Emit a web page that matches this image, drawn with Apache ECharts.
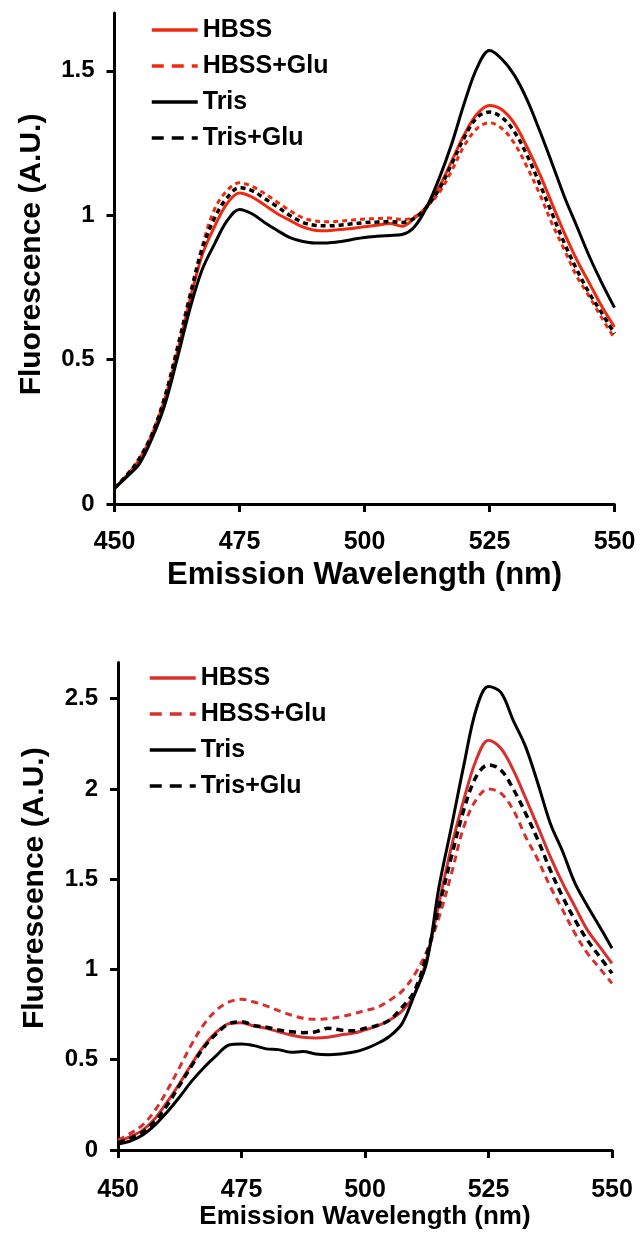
<!DOCTYPE html>
<html>
<head>
<meta charset="utf-8">
<script src="https://cdn.jsdelivr.net/npm/echarts@6/dist/echarts.min.js"></script>
<style>
html,body{margin:0;padding:0;background:#fff;}
#chart{width:640px;height:1233px;}
</style>
</head>
<body>
<div id="chart"></div>
<script>
// Emission wavelengths (nm), 450 to 550 every 2.5 nm
const wavelengths = [450,452.5,455,457.5,460,462.5,465,467.5,470,472.5,475,477.5,480,482.5,485,487.5,490,492.5,495,497.5,500,502.5,505,507.5,510,512.5,515,517.5,520,522.5,525,527.5,530,532.5,535,537.5,540,542.5,545,547.5,550];

// Top panel
const hbssTop    = [0.055,0.10,0.155,0.24,0.36,0.52,0.70,0.86,0.96,1.04,1.077,1.063,1.035,1.006,0.983,0.96,0.948,0.946,0.95,0.954,0.96,0.965,0.971,0.962,0.99,1.03,1.10,1.19,1.28,1.35,1.38,1.365,1.317,1.236,1.144,1.04,0.937,0.844,0.764,0.683,0.613];
const hbssGluTop = [0.055,0.10,0.16,0.245,0.37,0.54,0.72,0.89,1.02,1.085,1.112,1.10,1.075,1.046,1.017,0.992,0.98,0.977,0.979,0.983,0.987,0.988,0.99,0.985,0.994,1.03,1.08,1.156,1.242,1.30,1.32,1.30,1.248,1.167,1.075,0.971,0.879,0.787,0.717,0.643,0.573];
const trisTop    = [0.055,0.095,0.14,0.227,0.34,0.50,0.67,0.81,0.90,0.98,1.02,1.005,0.975,0.948,0.923,0.91,0.904,0.904,0.908,0.916,0.923,0.927,0.93,0.933,0.96,1.03,1.13,1.25,1.39,1.51,1.57,1.54,1.484,1.40,1.294,1.18,1.063,0.96,0.856,0.764,0.68];
const trisGluTop = [0.055,0.10,0.158,0.24,0.365,0.53,0.71,0.88,0.99,1.06,1.095,1.085,1.058,1.03,1.0,0.976,0.965,0.963,0.965,0.97,0.974,0.976,0.978,0.975,0.99,1.03,1.092,1.18,1.27,1.338,1.357,1.338,1.288,1.208,1.11,1.006,0.902,0.81,0.729,0.66,0.59];

// Bottom panel
const hbssBot    = [0.046,0.074,0.11,0.175,0.268,0.37,0.48,0.58,0.655,0.70,0.705,0.687,0.674,0.655,0.637,0.624,0.62,0.624,0.637,0.646,0.665,0.687,0.72,0.77,0.86,1.06,1.37,1.68,1.94,2.16,2.27,2.225,2.105,1.95,1.79,1.625,1.478,1.348,1.219,1.126,1.034];
const hbssGluBot = [0.055,0.092,0.139,0.22,0.332,0.46,0.59,0.70,0.776,0.82,0.835,0.82,0.798,0.772,0.748,0.73,0.724,0.727,0.738,0.753,0.772,0.79,0.83,0.88,0.97,1.10,1.29,1.53,1.79,1.94,2.00,1.976,1.884,1.736,1.607,1.459,1.33,1.2,1.09,1.007,0.923];
const trisBot    = [0.033,0.05,0.083,0.139,0.212,0.295,0.384,0.46,0.526,0.582,0.587,0.578,0.56,0.556,0.541,0.545,0.532,0.528,0.532,0.541,0.56,0.59,0.63,0.70,0.86,1.04,1.46,1.79,2.13,2.44,2.567,2.534,2.38,2.234,2.03,1.81,1.653,1.478,1.353,1.237,1.117];
const trisGluBot = [0.04,0.065,0.10,0.16,0.25,0.36,0.47,0.572,0.646,0.70,0.71,0.69,0.68,0.665,0.655,0.65,0.655,0.674,0.665,0.66,0.674,0.69,0.72,0.79,0.88,1.08,1.348,1.625,1.884,2.068,2.133,2.105,2.0,1.865,1.717,1.551,1.403,1.274,1.163,1.071,0.979];

const seriesNames = ['HBSS','HBSS+Glu','Tris','Tris+Glu'];
const xTicks = [450,475,500,525,550];
const yTicksTop = [0,0.5,1,1.5];
const yTicksBot = [0,0.5,1,1.5,2,2.5];
const xTitle = 'Emission Wavelength (nm)';
const yTitle = 'Fluorescence (A.U.)';

const FONT = 'Liberation Sans, Arial, sans-serif';
const RED_TOP = '#ee2a10';
const RED_BOT = '#d8302e';
const BLACK = '#000000';

function pairs(vals){ return wavelengths.map((w,i)=>[w, vals[i]]); }

function xAxisCfg(gridIndex, nameSize, nameGap, labelMargin){
  return {
    type:'value', gridIndex, min:450, max:550, interval:25,
    name: xTitle, nameLocation:'middle', nameGap,
    nameTextStyle:{fontFamily:FONT, fontWeight:'bold', fontSize:nameSize, color:'#000'},
    axisLine:{show:true, onZero:false, lineStyle:{color:'#000', width:3}},
    axisTick:{show:true, inside:false, length:8, lineStyle:{color:'#000', width:3}},
    axisLabel:{fontFamily:FONT, fontWeight:'bold', fontSize:25, color:'#000', margin:labelMargin,
      customValues: xTicks},
    splitLine:{show:false}
  };
}
function yAxisCfg(gridIndex, max, ticks, namePad){
  return {
    type:'value', gridIndex, min:0, max, interval:0.5,
    name: yTitle, nameLocation:'middle', nameGap:68, nameRotate:90,
    nameTextStyle:{fontFamily:FONT, fontWeight:'bold', fontSize:30, color:'#000', padding:namePad},
    axisLine:{show:true, onZero:false, lineStyle:{color:'#000', width:3}},
    axisTick:{show:true, inside:false, length:8, lineStyle:{color:'#000', width:3}, customValues: ticks},
    axisLabel:{fontFamily:FONT, fontWeight:'bold', fontSize:24, color:'#000', margin:20,
      customValues: ticks, formatter: v => String(v)},
    splitLine:{show:false}
  };
}
function lineSeries(name, vals, xi, color, dashed, width, dash){
  return {
    type:'line', name, xAxisIndex:xi, yAxisIndex:xi, data: pairs(vals),
    symbol:'none', showSymbol:false, smooth:0.35, clip:false,
    lineStyle:{color, width, type: dashed ? dash : 'solid'},
    itemStyle:{color},
    emphasis:{disabled:true}, animation:false
  };
}
function legendCfg(top, left, red){
  const cols = [red, red, BLACK, BLACK];
  const dsh = [false, true, false, true];
  return {
    orient:'vertical', left, top, itemWidth:46, itemHeight:14, itemGap:11,
    selectedMode:false,
    textStyle:{fontFamily:FONT, fontWeight:'bold', fontSize:25, color:'#000'},
    data: seriesNames.map((n,i)=>({
      name:n,
      itemStyle:{color:'rgba(0,0,0,0)', borderWidth:0, opacity:0},
      lineStyle:{color:cols[i], width:3.5, type: dsh[i] ? [12,8] : 'solid'}
    }))
  };
}

const chart = echarts.init(document.getElementById('chart'), null, {renderer:'canvas'});
chart.setOption({
  animation:false,
  backgroundColor:'#fff',
  grid:[
    {left:114.5, top:13, width:500, height:491},
    {left:118, top:662.5, width:494, height:487.5}
  ],
  xAxis:[ xAxisCfg(0, 31, 56, 26), xAxisCfg(1, 26, 54, 28) ],
  yAxis:[ yAxisCfg(0, 1.7, yTicksTop, [0,0,0,8]), yAxisCfg(1, 2.7, yTicksBot, [0,0,0,36]) ],
  legend:[ legendCfg(12.5, 145, RED_TOP), legendCfg(660.5, 143, RED_BOT) ],
  series:[
    lineSeries('HBSS', hbssTop, 0, RED_TOP, false, 3),
    lineSeries('HBSS+Glu', hbssGluTop, 0, RED_TOP, true, 3, [5,4]),
    lineSeries('Tris', trisTop, 0, BLACK, false, 3),
    lineSeries('Tris+Glu', trisGluTop, 0, BLACK, true, 3.5, [5,4]),
    lineSeries('HBSS', hbssBot, 1, RED_BOT, false, 3),
    lineSeries('HBSS+Glu', hbssGluBot, 1, RED_BOT, true, 3, [7,5]),
    lineSeries('Tris', trisBot, 1, BLACK, false, 3),
    lineSeries('Tris+Glu', trisGluBot, 1, BLACK, true, 3.5, [7,5])
  ]
});
</script>
</body>
</html>
